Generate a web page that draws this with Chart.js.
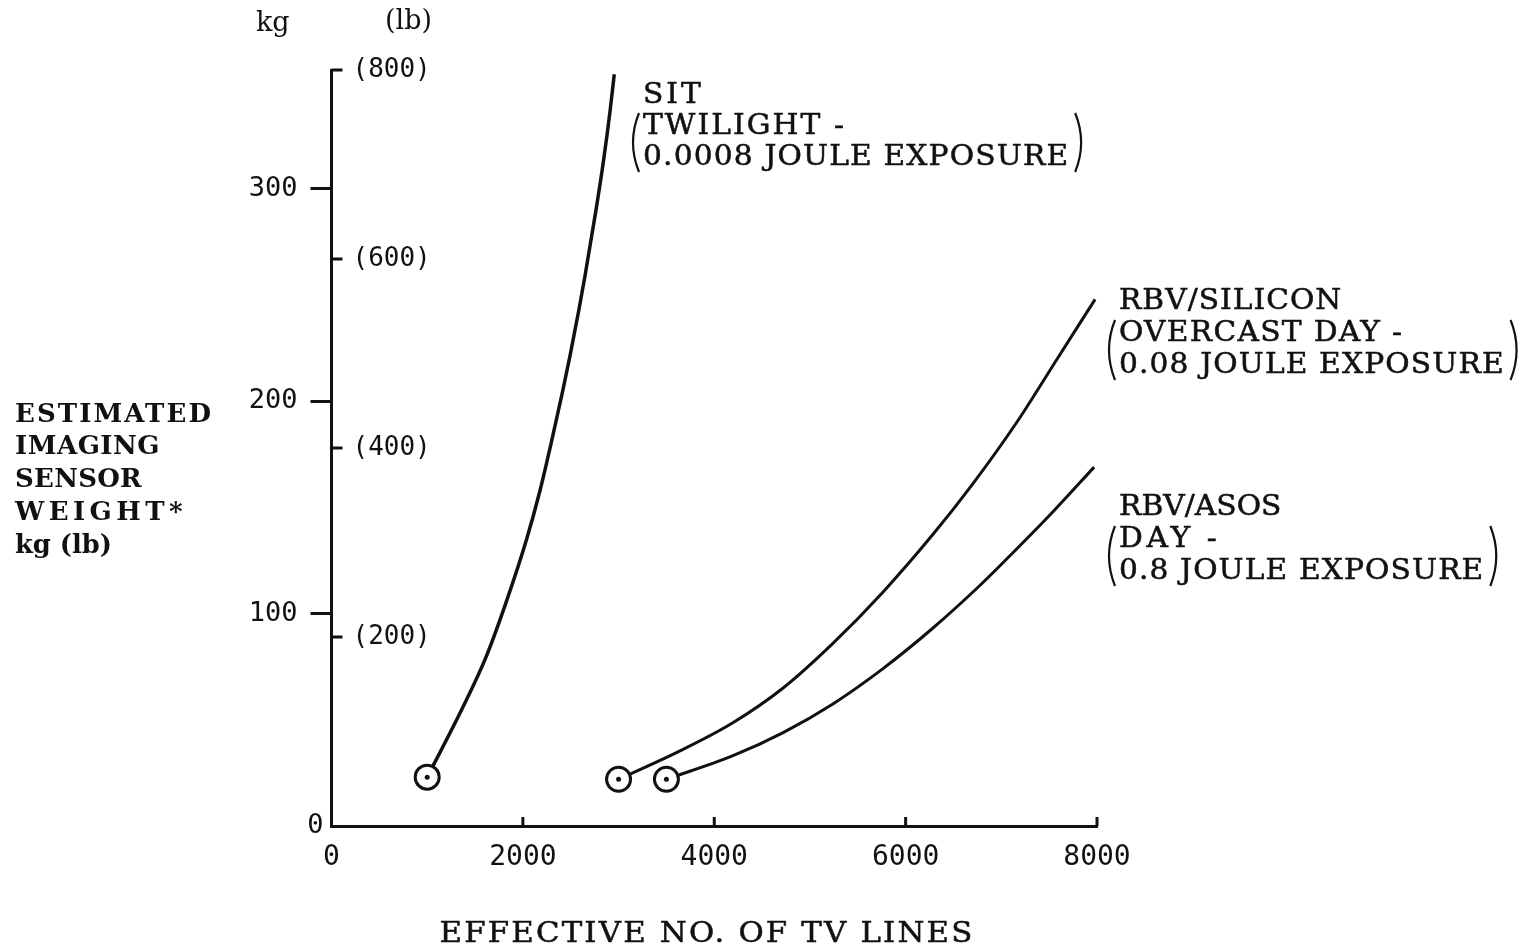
<!DOCTYPE html>
<html>
<head>
<meta charset="utf-8">
<title>Estimated imaging sensor weight</title>
<script src="https://cdn.jsdelivr.net/npm/chart.js@4.4.1/dist/chart.umd.min.js"></script>
<style>
  html, body { margin: 0; padding: 0; background: #fff; }
  #wrap { width: 1535px; height: 951px; }
</style>
</head>
<body>
<div id="wrap"><canvas id="weight-chart" width="1535" height="951"></canvas></div>
<script>
// values (x = effective TV lines, y = kg)
const sitLines = [1000, 1374, 1619, 1830, 2039, 2179, 2309, 2412, 2495, 2585, 2649, 2764, 2842, 2912, 2955];
const sitKg = [23, 56, 80, 106, 135, 158, 183, 204, 222, 243, 259, 290, 313, 337, 354];

const siliconLines = [3000, 3670, 4190, 4720, 5240, 5760, 6280, 6700, 7160, 7570, 7980];
const siliconKg = [22, 36, 48.5, 65, 86, 110, 137, 161, 190, 219, 248];

const asosLines = [3500, 4190, 4720, 5240, 5760, 6280, 6770, 7150, 7540, 7970];
const asosKg = [22, 33, 44, 57.5, 74, 93, 113, 130, 148, 169];

const xTicks = [0, 2000, 4000, 6000, 8000];
const kgTicks = [0, 100, 200, 300];
const lbTicks = [200, 400, 600, 800];

const yTitleLines = ['ESTIMATED', 'IMAGING', 'SENSOR', 'WEIGHT*', 'kg (lb)'];
const xTitle = 'EFFECTIVE NO. OF TV LINES';

const INK = '#111';
const TYPE = '"DejaVu Serif"';

const toPoints = (xs, ys) => xs.map((x, i) => ({ x: x, y: ys[i] }));

const curve = (label, xs, ys, width) => ({
  label: label,
  data: toPoints(xs, ys),
  borderColor: INK,
  borderWidth: width,
  cubicInterpolationMode: 'monotone',
  fill: false,
  pointRadius: c => c.dataIndex === 0 ? 12 : 0,
  pointHoverRadius: c => c.dataIndex === 0 ? 12 : 0,
  pointBorderWidth: 3,
  pointBackgroundColor: '#fff',
  pointBorderColor: INK,
  yAxisID: 'y'
});

// typewriter look: widen the glyphs a bit, then letter-space up to the width
function fitText(ctx, text, x, y, font, width, align, stretch, weight) {
  ctx.font = font;
  ctx.letterSpacing = '0px';
  const w0 = ctx.measureText(text).width;
  const sx = Math.min(stretch || 1, width / w0);
  const ls = (width / sx - w0) / text.length;
  ctx.save();
  ctx.translate(x, y);
  ctx.scale(sx, 1);
  ctx.letterSpacing = ls + 'px';
  ctx.textAlign = align || 'left';
  ctx.textBaseline = 'middle';
  ctx.fillText(text, 0, 0);
  if (weight) {
    ctx.lineWidth = weight;
    ctx.strokeText(text, 0, 0);
  }
  ctx.restore();
  return width - ls * sx;
}

function paren(ctx, x, top, bottom, bulge) {
  ctx.beginPath();
  ctx.moveTo(x, top);
  ctx.quadraticCurveTo(x + bulge * 2, (top + bottom) / 2, x, bottom);
  ctx.stroke();
}

const sheetText = {
  id: 'sheetText',
  afterDatasetsDraw(chart) {
    const ctx = chart.ctx;
    ctx.save();
    ctx.fillStyle = INK;
    chart.data.datasets.forEach((ds, i) => {
      const p = chart.getDatasetMeta(i).data[0];
      ctx.beginPath();
      ctx.arc(p.x, p.y, 2.5, 0, Math.PI * 2);
      ctx.fill();
    });
    ctx.restore();
  },
  afterDraw(chart) {
    const ctx = chart.ctx;
    const area = chart.chartArea;
    const xs = chart.scales.x;
    const lb = chart.scales.ylb;
    ctx.save();
    ctx.fillStyle = INK;
    ctx.strokeStyle = INK;

    // x ticks point up into the plot
    ctx.lineWidth = 3;
    xTicks.forEach(v => {
      if (v === 0) return;
      const x = xs.getPixelForValue(v);
      ctx.beginPath();
      ctx.moveTo(x, area.bottom);
      ctx.lineTo(x, area.bottom - 9);
      ctx.stroke();
    });

    // pound scale on the inside of the axis
    lbTicks.forEach(v => {
      const y = lb.getPixelForValue(v);
      ctx.lineWidth = 3;
      ctx.beginPath();
      ctx.moveTo(area.left, y);
      ctx.lineTo(area.left + 11, y);
      ctx.stroke();
      ctx.font = '26px "DejaVu Sans Mono"';
      ctx.textAlign = 'left';
      ctx.textBaseline = 'middle';
      ctx.fillText('(' + v + ')', area.left + 21, y);
    });
    ctx.font = '27px "DejaVu Sans Mono"';
    ctx.textAlign = 'right';
    ctx.fillText('0', area.left - 8, area.bottom);

    // unit headers
    ctx.font = '27px "DejaVu Serif"';
    ctx.textAlign = 'left';
    ctx.fillText('kg', 256, 24);
    ctx.fillText('(lb)', 385, 22);

    // y title, horizontal block on the left
    const blockWidths = [198, 145, 127, 172, 97];
    yTitleLines.forEach((t, i) => {
      fitText(ctx, t, 15, 415 + i * 32.7, 'bold 26px "DejaVu Serif"', blockWidths[i], 'left', 1);
    });

    // x title
    fitText(ctx, xTitle, 707, 935, '28px ' + TYPE, 535, 'center', 1.1, 0.5);

    // curve labels
    const notes = [
      { x: 643, y: 96, gap: 31, lines: ['SIT', 'TWILIGHT -', '0.0008 JOULE EXPOSURE'] },
      { x: 1119, y: 302, gap: 32, lines: ['RBV/SILICON', 'OVERCAST DAY -', '0.08 JOULE EXPOSURE'] },
      { x: 1119, y: 508, gap: 32, lines: ['RBV/ASOS', 'DAY -', '0.8 JOULE EXPOSURE'] }
    ];
    notes.forEach(n => {
      let widest = 0;
      n.lines.forEach((t, i) => {
        const w = fitText(ctx, t, n.x, n.y + i * n.gap, '27px ' + TYPE, t.length * 20.3, 'left', 1.1, 0.5);
        widest = Math.max(widest, w);
      });
      const top = n.y + n.gap - 14;
      const bottom = n.y + 2 * n.gap + 14;
      ctx.lineWidth = 2.2;
      paren(ctx, n.x - 4, top, bottom, -6);
      paren(ctx, n.x + widest + 7, top, bottom, 6);
    });
    ctx.restore();
  }
};

const ctxWeight = document.getElementById('weight-chart').getContext('2d');

new Chart(ctxWeight, {
  type: 'line',
  data: {
    datasets: [
      curve('SIT', sitLines, sitKg, 3.5),
      curve('RBV/SILICON', siliconLines, siliconKg, 3),
      curve('RBV/ASOS', asosLines, asosKg, 3)
    ]
  },
  options: {
    responsive: false,
    animation: false,
    layout: {
      padding: { left: 241.5, right: 438, top: 70, bottom: 0 }
    },
    plugins: {
      legend: { display: false },
      tooltip: { enabled: false }
    },
    scales: {
      x: {
        type: 'linear',
        min: 0,
        max: 8000,
        afterBuildTicks: s => { s.ticks = xTicks.map(v => ({ value: v })); },
        afterFit: s => { s.height = 125; },
        ticks: {
          color: INK,
          padding: 15,
          maxRotation: 0,
          font: { family: 'DejaVu Sans Mono', size: 28 },
          callback: v => String(v)
        },
        grid: { display: true, drawOnChartArea: false, drawTicks: false },
        border: { display: true, color: INK, width: 3 }
      },
      y: {
        type: 'linear',
        position: 'left',
        min: 0,
        max: 356,
        afterBuildTicks: s => { s.ticks = kgTicks.map(v => ({ value: v })); },
        afterFit: s => { s.width = 90; },
        ticks: {
          color: INK,
          padding: 13,
          font: { family: 'DejaVu Sans Mono', size: 27 },
          callback: v => v === 0 ? '' : String(v)
        },
        grid: {
          display: true,
          drawOnChartArea: false,
          drawTicks: true,
          tickLength: 21,
          tickWidth: 3,
          tickColor: c => (c.tick && c.tick.value === 0) ? 'rgba(0,0,0,0)' : INK
        },
        border: { display: true, color: INK, width: 3 }
      },
      ylb: {
        type: 'linear',
        position: 'left',
        display: false,
        min: 0,
        max: 800
      }
    }
  },
  plugins: [sheetText]
});
</script>
</body>
</html>
